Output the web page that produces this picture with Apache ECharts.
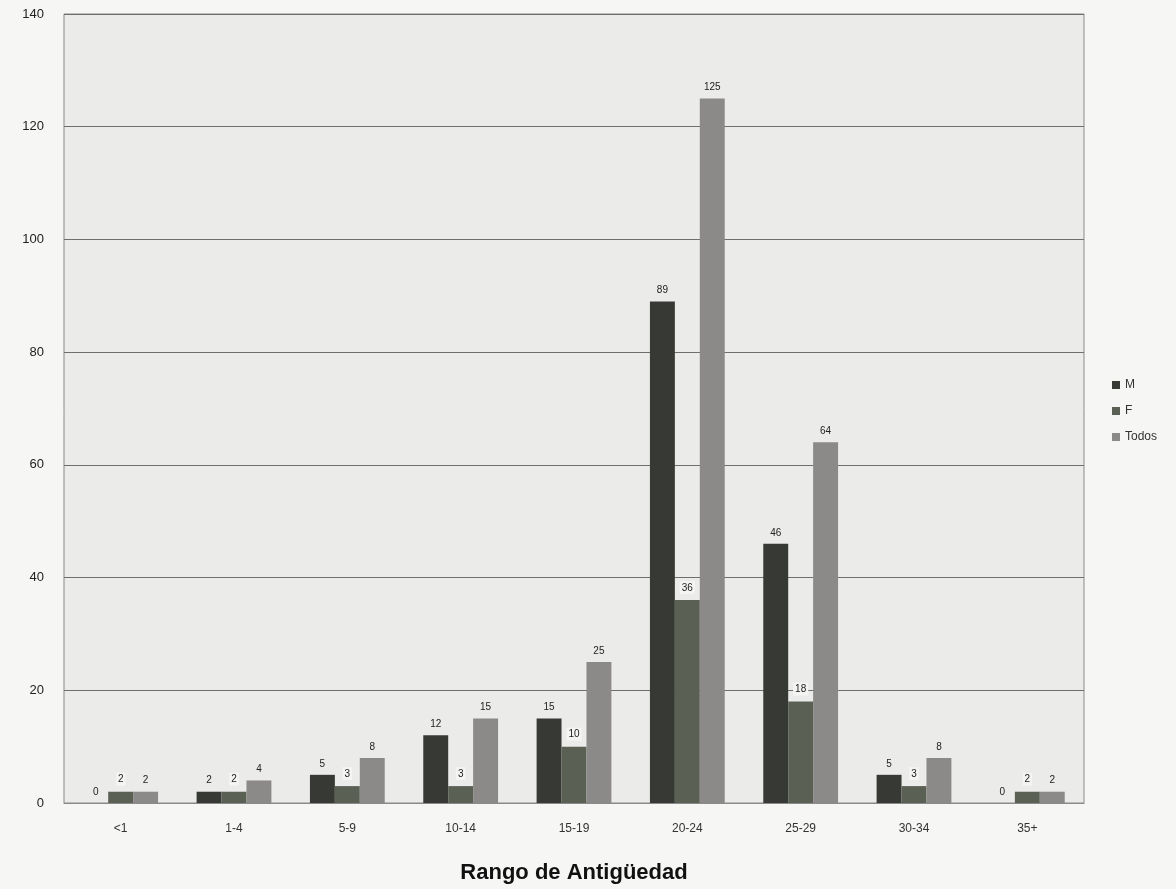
<!DOCTYPE html>
<html><head><meta charset="utf-8">
<script src="https://cdn.jsdelivr.net/npm/echarts@6/dist/echarts.min.js"></script>
<style>html,body{margin:0;padding:0;background:#f6f6f5;}#c{width:1176px;height:889px;}</style>
</head><body><div id="c"></div>
<script>
const categories = ['<1','1-4','5-9','10-14','15-19','20-24','25-29','30-34','35+'];
const seriesM = [0,2,5,12,15,89,46,5,0];
const seriesF = [2,2,3,3,10,36,18,3,2];
const seriesTodos = [2,4,8,15,25,125,64,8,2];
const yTicks = [0,20,40,60,80,100,120,140];

const chart = echarts.init(document.getElementById('c'));
const lbl = {show:true, position:'top', distance:6, fontSize:10, color:'#222', fontFamily:'Liberation Sans, Arial'};
chart.setOption({
  backgroundColor:'#f6f6f5',
  animation:false,
  grid:{left:64, right:92, top:14, bottom:85, backgroundColor:'#ebebea', show:true, borderColor:'#8a8a8a', borderWidth:1},
  legend:{orient:'vertical', left:1107, top:374, itemWidth:8, itemHeight:8, itemGap:14,
    textStyle:{fontSize:12, color:'#333', fontFamily:'Liberation Sans, Arial'}, icon:'rect',
    data:['M','F','Todos']},
  xAxis:{type:'category', data:categories,
    axisLine:{lineStyle:{color:'#8a8a8a'}}, axisTick:{show:false},
    axisLabel:{fontSize:12, color:'#333', margin:20, fontFamily:'Liberation Sans, Arial'},
    name:'Rango de Antigüedad', nameLocation:'middle', nameGap:59,
    nameTextStyle:{fontSize:22, fontWeight:'bold', color:'#111', fontFamily:'Liberation Sans, Arial'}},
  yAxis:{type:'value', min:yTicks[0], max:yTicks[yTicks.length-1], interval:20,
    axisLine:{show:false}, axisTick:{show:false},
    axisLabel:{fontSize:13, color:'#222', margin:20, fontFamily:'Liberation Sans, Arial'},
    splitLine:{lineStyle:{color:'#6e6e6e', width:1}}},
  series:[
    {name:'M', type:'bar', data:seriesM, barGap:'0%', barCategoryGap:'34%',
      itemStyle:{color:'#373a34'}, label:lbl},
    {name:'F', type:'bar', data:seriesF,
      itemStyle:{color:'#5b6055'}, label:Object.assign({}, lbl, {backgroundColor:'#f4f4f2', padding:[2,2,1,2]})},
    {name:'Todos', type:'bar', data:seriesTodos,
      itemStyle:{color:'#8c8a88'}, label:lbl}
  ]
});
</script></body></html>
